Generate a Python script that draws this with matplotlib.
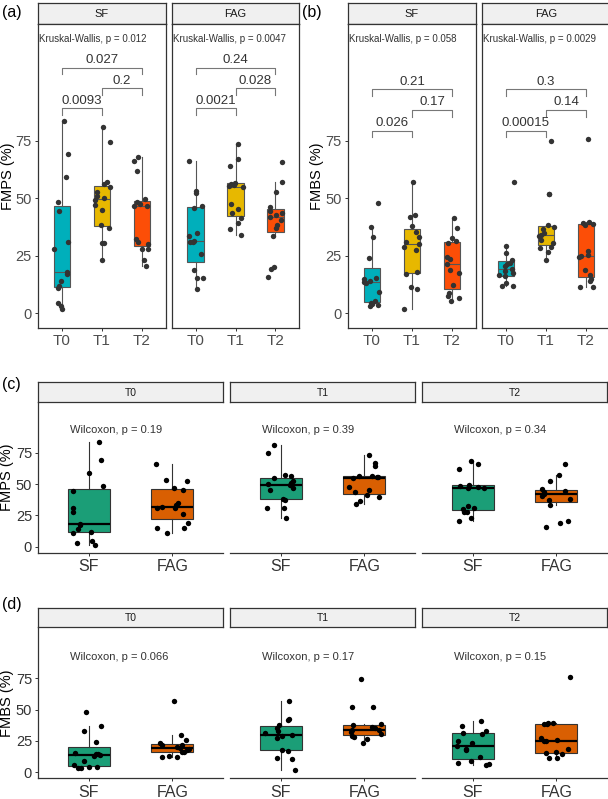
import numpy as np
import matplotlib
matplotlib.use("Agg")
import matplotlib.pyplot as plt
from matplotlib import font_manager

# ---------------- data ----------------
times = ["T0", "T1", "T2"]
groups = ["SF", "FAG"]

fmps_sf_t0 = [83.7, 69.2, 59.1, 48.2, 44.6, 30.8, 27.8, 17.8, 17.0, 14.0, 11.9, 10.8, 4.3, 3.2, 1.7]
fmps_sf_t1 = [80.8, 74.6, 56.9, 56.2, 54.8, 52.8, 51.0, 50.0, 49.2, 47.0, 44.9, 38.4, 36.9, 30.7, 30.7, 23.2]
fmps_sf_t2 = [68.0, 66.2, 61.8, 49.5, 48.5, 47.4, 46.7, 46.6, 32.1, 31.0, 30.1, 28.0, 27.8, 23.2, 20.5]
fmps_fag_t0 = [66.2, 53.1, 52.4, 46.6, 45.6, 35.0, 33.6, 31.4, 31.0, 30.8, 25.8, 18.8, 15.2, 15.2, 10.6]
fmps_fag_t1 = [73.5, 67.0, 64.1, 56.7, 56.2, 55.7, 55.5, 55.0, 47.5, 45.2, 43.5, 41.3, 39.4, 36.5, 34.0]
fmps_fag_t2 = [65.9, 56.9, 52.8, 46.0, 44.5, 43.5, 42.5, 42.0, 40.5, 38.4, 37.0, 33.6, 20.2, 19.1, 15.9]

fmbs_sf_t0 = [48.1, 37.3, 33.0, 24.2, 15.5, 14.8, 14.2, 13.7, 13.0, 9.4, 5.5, 4.6, 4.0, 3.6, 3.3]
fmbs_sf_t1 = [57.2, 42.7, 41.7, 38.1, 35.5, 33.3, 31.1, 30.0, 29.0, 27.5, 17.8, 17.0, 11.6, 10.6, 1.7]
fmbs_sf_t2 = [41.3, 36.9, 32.6, 31.5, 30.5, 24.6, 23.6, 21.3, 18.8, 17.5, 12.3, 9.0, 7.7, 6.5, 5.5]
fmbs_fag_t0 = [57.2, 29.4, 26.1, 23.0, 22.0, 21.5, 20.5, 19.1, 18.5, 17.4, 16.5, 16.0, 13.0, 12.0, 12.0]
fmbs_fag_t1 = [74.8, 51.7, 51.7, 38.4, 37.5, 36.5, 35.0, 34.0, 33.5, 31.8, 30.4, 29.0, 28.5, 26.8, 23.2]
fmbs_fag_t2 = [75.7, 39.6, 39.2, 38.8, 38.4, 27.0, 25.5, 25.0, 24.6, 18.8, 16.5, 15.0, 14.2, 11.6, 11.4]

kw_fmps = ["0.012", "0.0047"]
kw_fmbs = ["0.058", "0.0029"]
# pairwise order: T0-T1, T1-T2, T0-T2
pair_fmps = {"SF": ["0.0093", "0.2", "0.027"], "FAG": ["0.0021", "0.028", "0.24"]}
pair_fmbs = {"SF": ["0.026", "0.17", "0.21"], "FAG": ["0.00015", "0.14", "0.3"]}
wil_fmps = ["0.19", "0.39", "0.34"]
wil_fmbs = ["0.066", "0.17", "0.15"]

fmps = {"SF": [fmps_sf_t0, fmps_sf_t1, fmps_sf_t2], "FAG": [fmps_fag_t0, fmps_fag_t1, fmps_fag_t2]}
fmbs = {"SF": [fmbs_sf_t0, fmbs_sf_t1, fmbs_sf_t2], "FAG": [fmbs_fag_t0, fmbs_fag_t1, fmbs_fag_t2]}

# ---------------- style ----------------
avail = {f.name for f in font_manager.fontManager.ttflist}
fam = "Liberation Sans Narrow" if "Liberation Sans Narrow" in avail else "Liberation Sans"
plt.rcParams["font.family"] = [fam, "DejaVu Sans"]

time_cols = ["#00AFBB", "#E7B800", "#FC4E07"]
grp_cols = ["#1B9E77", "#D95F02"]
W, H = 608, 799
fig = plt.figure(figsize=(W / 100, H / 100), dpi=100)
rng = np.random.default_rng(7)


def rect(x0, y0, x1, y1):
    return [x0 / W, 1 - y1 / H, (x1 - x0) / W, (y1 - y0) / H]


def strip(x0, y0, x1, y1, label, fs=7.5):
    s = fig.add_axes(rect(x0, y0, x1, y1))
    s.set_facecolor("#F0F0F0")
    s.set_xticks([]); s.set_yticks([])
    for sp in s.spines.values():
        sp.set_color("#333333"); sp.set_linewidth(0.9)
    s.text(0.5, 0.45, label, ha="center", va="center", fontsize=fs, color="#1a1a1a",
           transform=s.transAxes)


def boxes(ax, data, pos, cols, width, edge, medc, medlw, ptcol, ps, jit):
    bp = ax.boxplot(data, positions=pos, widths=width, patch_artist=True, showfliers=False,
                    showcaps=False, whis=1.5,
                    boxprops=dict(edgecolor=edge, linewidth=0.8),
                    whiskerprops=dict(color=edge, linewidth=0.8),
                    medianprops=dict(color=medc, linewidth=medlw), zorder=2)
    for p, c in zip(bp["boxes"], cols):
        p.set_facecolor(c)
    for x, d in zip(pos, data):
        off = rng.uniform(-jit, jit, len(d))
        ax.scatter(x + off, d, s=ps, color=ptcol, zorder=3, linewidths=0)


# ---------------- panels (a) & (b) ----------------
top_specs = [
    ("(a)", 2, fmps, kw_fmps, pair_fmps, [(38, 166), (172, 299)], "FMPS (%)", 8,
     [89.0, 97.7, 106.7]),
    ("(b)", 302, fmbs, kw_fmbs, pair_fmbs, [(348, 476), (482, 610)], "FMBS (%)", 317,
     [79.3, 88.3, 97.3]),
]
for letter, lx, dat, kw, pairs, xs, ylab, ylx, bh in top_specs:
    fig.text(lx / W, 1 - 12 / H, letter, fontsize=11.5, va="center", ha="left")
    fig.text(ylx / W, 1 - 176 / H, ylab, rotation=90, fontsize=10.5, va="center", ha="center")
    for gi, g in enumerate(groups):
        x0, x1 = xs[gi]
        strip(x0, 2.7, x1, 24, g, fs=8)
        ax = fig.add_axes(rect(x0, 24, x1, 328))
        boxes(ax, dat[g], [1, 2, 3], time_cols, 0.42, "#555555", "#555555", 0.8,
              "#333333", 15, 0.2)
        ax.set_xlim(0.4, 3.6)
        ax.set_ylim(-6.4, 125.7)
        ax.set_xticks([1, 2, 3])
        ax.set_xticklabels(times, fontsize=11, color="#4D4D4D")
        ax.set_yticks([0, 25, 50, 75])
        if gi == 0:
            ax.set_yticklabels(["0", "25", "50", "75"], fontsize=10.5, color="#4D4D4D")
        else:
            ax.tick_params(axis="y", left=False, labelleft=False)
        ax.tick_params(length=2.5, width=0.7, color="#333333", pad=2)
        for sp in ax.spines.values():
            sp.set_color("#333333"); sp.set_linewidth(0.9)
        ax.text(0.43, 119.2, "Kruskal-Wallis, p = " + kw[gi], fontsize=7, ha="left",
                va="center", color="#333333")
        pairs_x = [(1, 2), (2, 3), (1, 3)]
        for (a, b), yb, lab in zip(pairs_x, bh, pairs[g]):
            ax.plot([a, a, b, b], [yb - 2.8, yb, yb, yb - 2.8], color="#777777", lw=0.8)
            ax.text((a + b) / 2, yb + 0.8, lab, ha="center", va="bottom", fontsize=9.5,
                    color="#333333")

# ---------------- panels (c) & (d) ----------------
bottom_specs = [
    ("(c)", 385, fmps, wil_fmps, "FMPS (%)", 381.7, 401.7, 552.7, 430.0),
    ("(d)", 605, fmbs, wil_fmbs, "FMBS (%)", 607.7, 627.3, 778.3, 656.7),
]
px = [(38.3, 222.7), (230.3, 414.7), (422.3, 606.7)]
for letter, ly, dat, wil, ylab, sy0, sy1, ay1, wy in bottom_specs:
    fig.text(2 / W, 1 - ly / H, letter, fontsize=11.5, va="center", ha="left")
    fig.text(7 / W, 1 - (sy1 + ay1) / 2 / H, ylab, rotation=90, fontsize=10.5,
             va="center", ha="center")
    for ti, t in enumerate(times):
        x0, x1 = px[ti]
        strip(x0, sy0, x1, sy1, t, fs=7.5)
        ax = fig.add_axes(rect(x0, sy1, x1, ay1))
        ax.patch.set_alpha(0)
        boxes(ax, [dat["SF"][ti], dat["FAG"][ti]], [1, 2], grp_cols, 0.5, "#333333",
              "black", 1.6, "black", 15, 0.2)
        ax.set_xlim(0.4, 2.6)
        ylo = -4.8
        ytop = ylo + (ay1 - sy1) / 1.2533
        ax.set_ylim(ylo, ytop)
        ax.set_xticks([1, 2])
        ax.set_xticklabels(groups, fontsize=11.5, color="#333333")
        ax.set_yticks([0, 25, 50, 75])
        for s in ["top", "right"]:
            ax.spines[s].set_visible(False)
        ax.spines["bottom"].set_color("#333333"); ax.spines["bottom"].set_linewidth(0.9)
        if ti == 0:
            ax.spines["left"].set_color("#333333"); ax.spines["left"].set_linewidth(0.9)
            ax.set_yticklabels(["0", "25", "50", "75"], fontsize=10.5, color="#333333")
        else:
            ax.spines["left"].set_visible(False)
            ax.tick_params(axis="y", left=False, labelleft=False)
        ax.tick_params(length=2.5, width=0.7, color="#333333", pad=2)
        yw = (ay1 - wy) / 1.2533 + ylo
        ax.text(0.78, yw, "Wilcoxon, p = " + wil[ti], fontsize=8, ha="left",
                va="center", color="#333333")

fig.savefig("out.png", dpi=100)
